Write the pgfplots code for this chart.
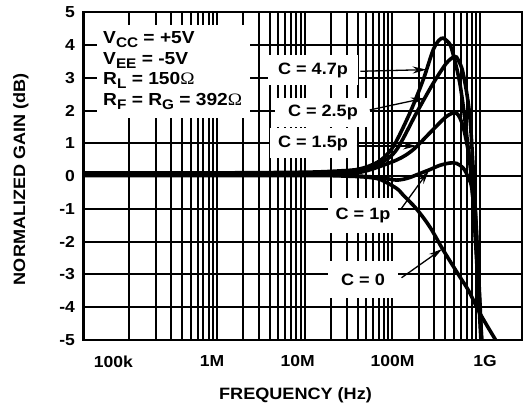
\documentclass[border=0pt]{standalone}
\usepackage{fontspec}
\setmainfont[FakeStretch=1.1]{Liberation Sans}
\newfontfamily\omfont[FakeStretch=1.1]{Liberation Serif}
\usepackage{pgfplots}
\pgfplotsset{compat=1.18}
\usetikzlibrary{arrows.meta}

\newcommand\sub[1]{\raisebox{-4bp}{\fontsize{14}{14}\selectfont\bfseries #1}}
\newcommand\om{{\omfont\mdseries Ω}}

\begin{document}
\begin{tikzpicture}[curve/.style={black, line width=3.6bp, smooth, tension=0.5, mark=none}]
\begin{axis}[
    name=ax, at={(0,0)}, anchor=south west,
    scale only axis, width=438.5bp, height=327.7bp,
    xmode=log, xmin=3e4, xmax=3e9, ymin=-5, ymax=5,
    xtick={1e5,1e6,1e7,1e8,1e9},
    xticklabels={100k\hspace*{32bp}, 1M\hspace*{10bp}, 10M\hspace*{14bp}, 100M, \hspace*{10bp}1G},
    ytick={-5,-4,-3,-2,-1,0,1,2,3,4,5},
    yticklabels={-5,-4,-3,-2,-1,0,1,2,3,4,5},
    xmajorgrids=true, xminorgrids=true, ymajorgrids=true,
    grid style={draw=black, line width=2bp},
    major grid style={draw=black, line width=2bp},
    minor grid style={draw=black, line width=2bp},
    axis line style={line width=2.2bp},
    major tick length=0pt, minor tick length=0pt,
    tick label style={font=\fontsize{16}{16}\selectfont\bfseries},
    xticklabel style={yshift=-12bp},
    yticklabel style={xshift=-5bp},
    xlabel={FREQUENCY (Hz)},
    ylabel={NORMALIZED GAIN (dB)},
    label style={font=\fontsize{16.5}{16.5}\selectfont\bfseries},
    xlabel style={at={(axis description cs:0.4835,-0.168)}, anchor=center},
    ylabel style={at={(axis description cs:-0.143,0.491)}, anchor=center},
  ]
  % C = 4.7p
  \addplot[curve] coordinates {
    (3e4,0.1)(1e6,0.1)(1e7,0.12)(2.5e7,0.16)(4.25e7,0.22)(7e7,0.45)(1.02e8,0.9)
    (1.58e8,1.93)(2.24e8,2.94)(2.91e8,3.85)(3.4e8,4.15)(3.78e8,4.21)(4.2e8,4.12)
    (4.71e8,3.9)(5.86e8,2.84)(6.98e8,1.32)(8.3e8,-0.73)(1.02e9,-5)};
  % C = 2.5p
  \addplot[curve] coordinates {
    (3e4,0.08)(1e6,0.08)(1e7,0.09)(2.5e7,0.12)(4.5e7,0.18)(7.2e7,0.38)(1.11e8,0.8)
    (1.88e8,1.93)(2.91e8,2.83)(4.13e8,3.45)(5.14e8,3.65)(5.6e8,3.55)(6.39e8,3.14)
    (7.62e8,1.82)(8.68e8,-0.73)(1.03e9,-5)};
  % C = 1.5p
  \addplot[curve] coordinates {
    (3e4,0.06)(1e6,0.06)(1e7,0.06)(2.5e7,0.08)(4.7e7,0.14)(1.11e8,0.49)(1.71e8,0.8)
    (2.67e8,1.32)(4.13e8,1.82)(5.37e8,1.92)(6.39e8,1.51)(7.62e8,0.49)(8.68e8,-0.73)
    (1.04e9,-5)};
  % C = 1p
  \addplot[curve] coordinates {
    (3e4,0.04)(1e7,0.04)(3e7,0.02)(7e7,-0.04)(1.11e8,-0.12)(1.5e8,-0.06)(1.88e8,0.04)
    (2.67e8,0.2)(3.47e8,0.33)(4.5e8,0.4)(5.37e8,0.39)(6.4e8,0.25)(7.3e8,-0.05)
    (8.3e8,-0.73)(1.04e9,-5)};
  % C = 0
  \addplot[curve] coordinates {
    (3e4,0.02)(1e7,0.02)(3e7,0.0)(5e7,-0.03)(7.2e7,-0.1)(1.11e8,-0.37)(1.35e8,-0.6)
    (1.88e8,-1.0)(2.67e8,-1.55)(3.78e8,-2.25)(5.86e8,-3.07)(7.4e8,-3.5)(1e9,-4.2)
    (1.5e9,-5)};

  % conditions box
  \fill[white] (rel axis cs:0.031,0.6775) rectangle (rel axis cs:0.3797,0.9612);
  \node[anchor=north west, align=left, inner sep=0pt,
        font=\fontsize{17.5}{20.5}\selectfont\bfseries]
    at (rel axis cs:0.0445,0.941)
    {V\sub{CC} = +5V\\V\sub{EE} = -5V\\R\sub{L} = 150\om\\R\sub{F} = R\sub{G} = 392\om};

  % curve labels
  \tikzset{clab/.style={fill=white, inner sep=0pt, font=\fontsize{16.5}{16.5}\selectfont\bfseries},
           carr/.style={line width=1.3bp, -{Stealth[length=14bp,width=7bp]}}}
  \node[clab, minimum width=90bp, minimum height=30bp] at (rel axis cs:0.5234,0.824) {C = 4.7p};
  \node[clab, minimum width=95bp, minimum height=29bp] at (rel axis cs:0.546,0.6957) {C = 2.5p};
  \node[clab, minimum width=87bp, minimum height=30bp] at (rel axis cs:0.5234,0.6012) {C = 1.5p};
  \node[clab, minimum width=70bp, minimum height=35bp] at (rel axis cs:0.6374,0.3814) {C = 1p};
  \node[clab, minimum width=70bp, minimum height=37bp] at (rel axis cs:0.6374,0.1831) {C = 0};
  \draw[carr] (axis cs:4.3e7,3.2) -- (axis cs:2.45e8,3.25);
  \draw[carr] (axis cs:5.5e7,2.02) -- (axis cs:2.34e8,2.38);
  \draw[carr] (axis cs:3.9e7,0.92) -- (axis cs:1.9e8,0.92);
  \draw[carr] (axis cs:1.27e8,-0.98) -- (axis cs:2.6e8,0.17);
  \draw[carr] (axis cs:1.27e8,-3.1) -- (axis cs:3.7e8,-2.22);
\end{axis}
\pgfresetboundingbox
\path[use as bounding box] (-83.5bp,-73bp) rectangle (442.5bp,340bp);
\end{tikzpicture}
\end{document}
